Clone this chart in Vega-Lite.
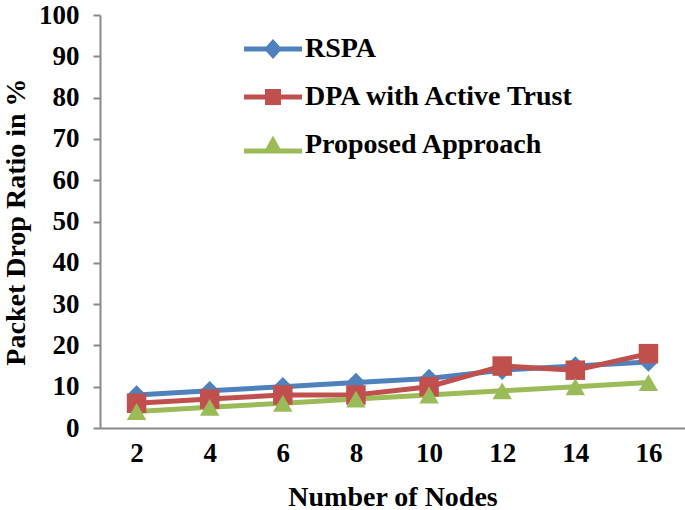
{
  "$schema": "https://vega.github.io/schema/vega-lite/v6.json",
  "autosize": {"type": "none"},
  "padding": {"left": 100, "top": 15, "right": 0, "bottom": 82},
  "width": 585,
  "height": 413,
  "background": "white",
  "config": {
    "view": {"stroke": null},
    "font": "Liberation Serif",
    "axis": {
      "labelFont": "Liberation Serif",
      "labelFontWeight": "bold",
      "labelFontSize": 27,
      "labelColor": "black",
      "titleFont": "Liberation Serif",
      "titleFontWeight": "bold",
      "titleFontSize": 27,
      "titleColor": "black",
      "domainColor": "#888888",
      "domainWidth": 2,
      "tickColor": "#888888",
      "tickWidth": 2,
      "grid": false
    }
  },
  "data": {
    "values": [
      {"nodes": 2, "series": "RSPA", "value": 8},
      {"nodes": 4, "series": "RSPA", "value": 9},
      {"nodes": 6, "series": "RSPA", "value": 10},
      {"nodes": 8, "series": "RSPA", "value": 11},
      {"nodes": 10, "series": "RSPA", "value": 12},
      {"nodes": 12, "series": "RSPA", "value": 14},
      {"nodes": 14, "series": "RSPA", "value": 15},
      {"nodes": 16, "series": "RSPA", "value": 16},
      {"nodes": 2, "series": "DPA with Active Trust", "value": 6},
      {"nodes": 4, "series": "DPA with Active Trust", "value": 7},
      {"nodes": 6, "series": "DPA with Active Trust", "value": 8},
      {"nodes": 8, "series": "DPA with Active Trust", "value": 8},
      {"nodes": 10, "series": "DPA with Active Trust", "value": 10},
      {"nodes": 12, "series": "DPA with Active Trust", "value": 15},
      {"nodes": 14, "series": "DPA with Active Trust", "value": 14},
      {"nodes": 16, "series": "DPA with Active Trust", "value": 18},
      {"nodes": 2, "series": "Proposed Approach", "value": 4},
      {"nodes": 4, "series": "Proposed Approach", "value": 5},
      {"nodes": 6, "series": "Proposed Approach", "value": 6},
      {"nodes": 8, "series": "Proposed Approach", "value": 7},
      {"nodes": 10, "series": "Proposed Approach", "value": 8},
      {"nodes": 12, "series": "Proposed Approach", "value": 9},
      {"nodes": 14, "series": "Proposed Approach", "value": 10},
      {"nodes": 16, "series": "Proposed Approach", "value": 11}
    ]
  },
  "encoding": {
    "x": {
      "field": "nodes",
      "type": "ordinal",
      "scale": {"type": "point", "padding": 0.5},
      "axis": {
        "title": "Number of Nodes",
        "titleFontSize": 28,
        "labelAngle": 0,
        "ticks": false,
        "labelPadding": 12,
        "titlePadding": 17
      }
    },
    "y": {
      "field": "value",
      "type": "quantitative",
      "scale": {"domain": [0, 100], "nice": false},
      "axis": {
        "title": "Packet Drop Ratio in %",
        "titleFontSize": 28,
        "values": [0, 10, 20, 30, 40, 50, 60, 70, 80, 90, 100],
        "tickSize": 7,
        "labelPadding": 14,
        "titlePadding": 8
      }
    }
  },
  "resolve": {"scale": {"color": "independent", "shape": "independent"}},
  "layer": [
    {
      "mark": {"type": "line", "strokeWidth": 5},
      "encoding": {
        "color": {
          "field": "series",
          "type": "nominal",
          "scale": {
            "domain": ["RSPA", "DPA with Active Trust", "Proposed Approach"],
            "range": ["#4F81BD", "#C0504D", "#9BBB59"]
          },
          "legend": null
        }
      }
    },
    {
      "mark": {"type": "point", "filled": true, "opacity": 1, "size": 380},
      "encoding": {
        "color": {
          "field": "series",
          "type": "nominal",
          "scale": {
            "domain": ["RSPA", "DPA with Active Trust", "Proposed Approach"],
            "range": ["#4F81BD", "#C0504D", "#9BBB59"]
          },
          "legend": null
        },
        "shape": {
          "field": "series",
          "type": "nominal",
          "scale": {
            "domain": ["RSPA", "DPA with Active Trust", "Proposed Approach"],
            "range": ["diamond", "square", "triangle-up"]
          },
          "legend": null
        }
      }
    },
    {
      "mark": {"type": "point", "filled": true, "opacity": 0, "size": 1},
      "encoding": {
        "color": {
          "field": "series",
          "type": "nominal",
          "scale": {
            "domain": ["RSPA", "DPA with Active Trust", "Proposed Approach"],
            "range": ["#4F81BD", "#C0504D", "#9BBB59"]
          },
          "legend": {
            "title": null,
            "orient": "none",
            "legendX": 159,
            "legendY": 20,
            "padding": 0,
            "symbolSize": 400,
            "symbolOpacity": 1,
            "symbolStrokeWidth": 0,
            "labelFont": "Liberation Serif",
            "labelFontWeight": "bold",
            "labelFontSize": 28,
            "labelColor": "black",
            "labelOffset": 18,
            "rowPadding": 20,
            "labelLimit": 400
          }
        },
        "shape": {
          "field": "series",
          "type": "nominal",
          "scale": {
            "domain": ["RSPA", "DPA with Active Trust", "Proposed Approach"],
            "range": [
              "M-2.9,-0.25L2.9,-0.25L2.9,0.25L-2.9,0.25ZM0,-1L0.9,0L0,1L-0.9,0Z",
              "M-2.9,-0.25L2.9,-0.25L2.9,0.25L-2.9,0.25ZM-0.8,-0.8L0.8,-0.8L0.8,0.8L-0.8,0.8Z",
              "M-2.9,0.35L2.9,0.35L2.9,0.85L-2.9,0.85ZM0,-0.95L1,0.85L-1,0.85Z"
            ]
          },
          "legend": {
            "title": null,
            "orient": "none",
            "legendX": 159,
            "legendY": 20,
            "padding": 0,
            "symbolSize": 400,
            "symbolOpacity": 1,
            "symbolStrokeWidth": 0,
            "labelFont": "Liberation Serif",
            "labelFontWeight": "bold",
            "labelFontSize": 28,
            "labelColor": "black",
            "labelOffset": 18,
            "rowPadding": 20,
            "labelLimit": 400
          }
        }
      }
    }
  ]
}
